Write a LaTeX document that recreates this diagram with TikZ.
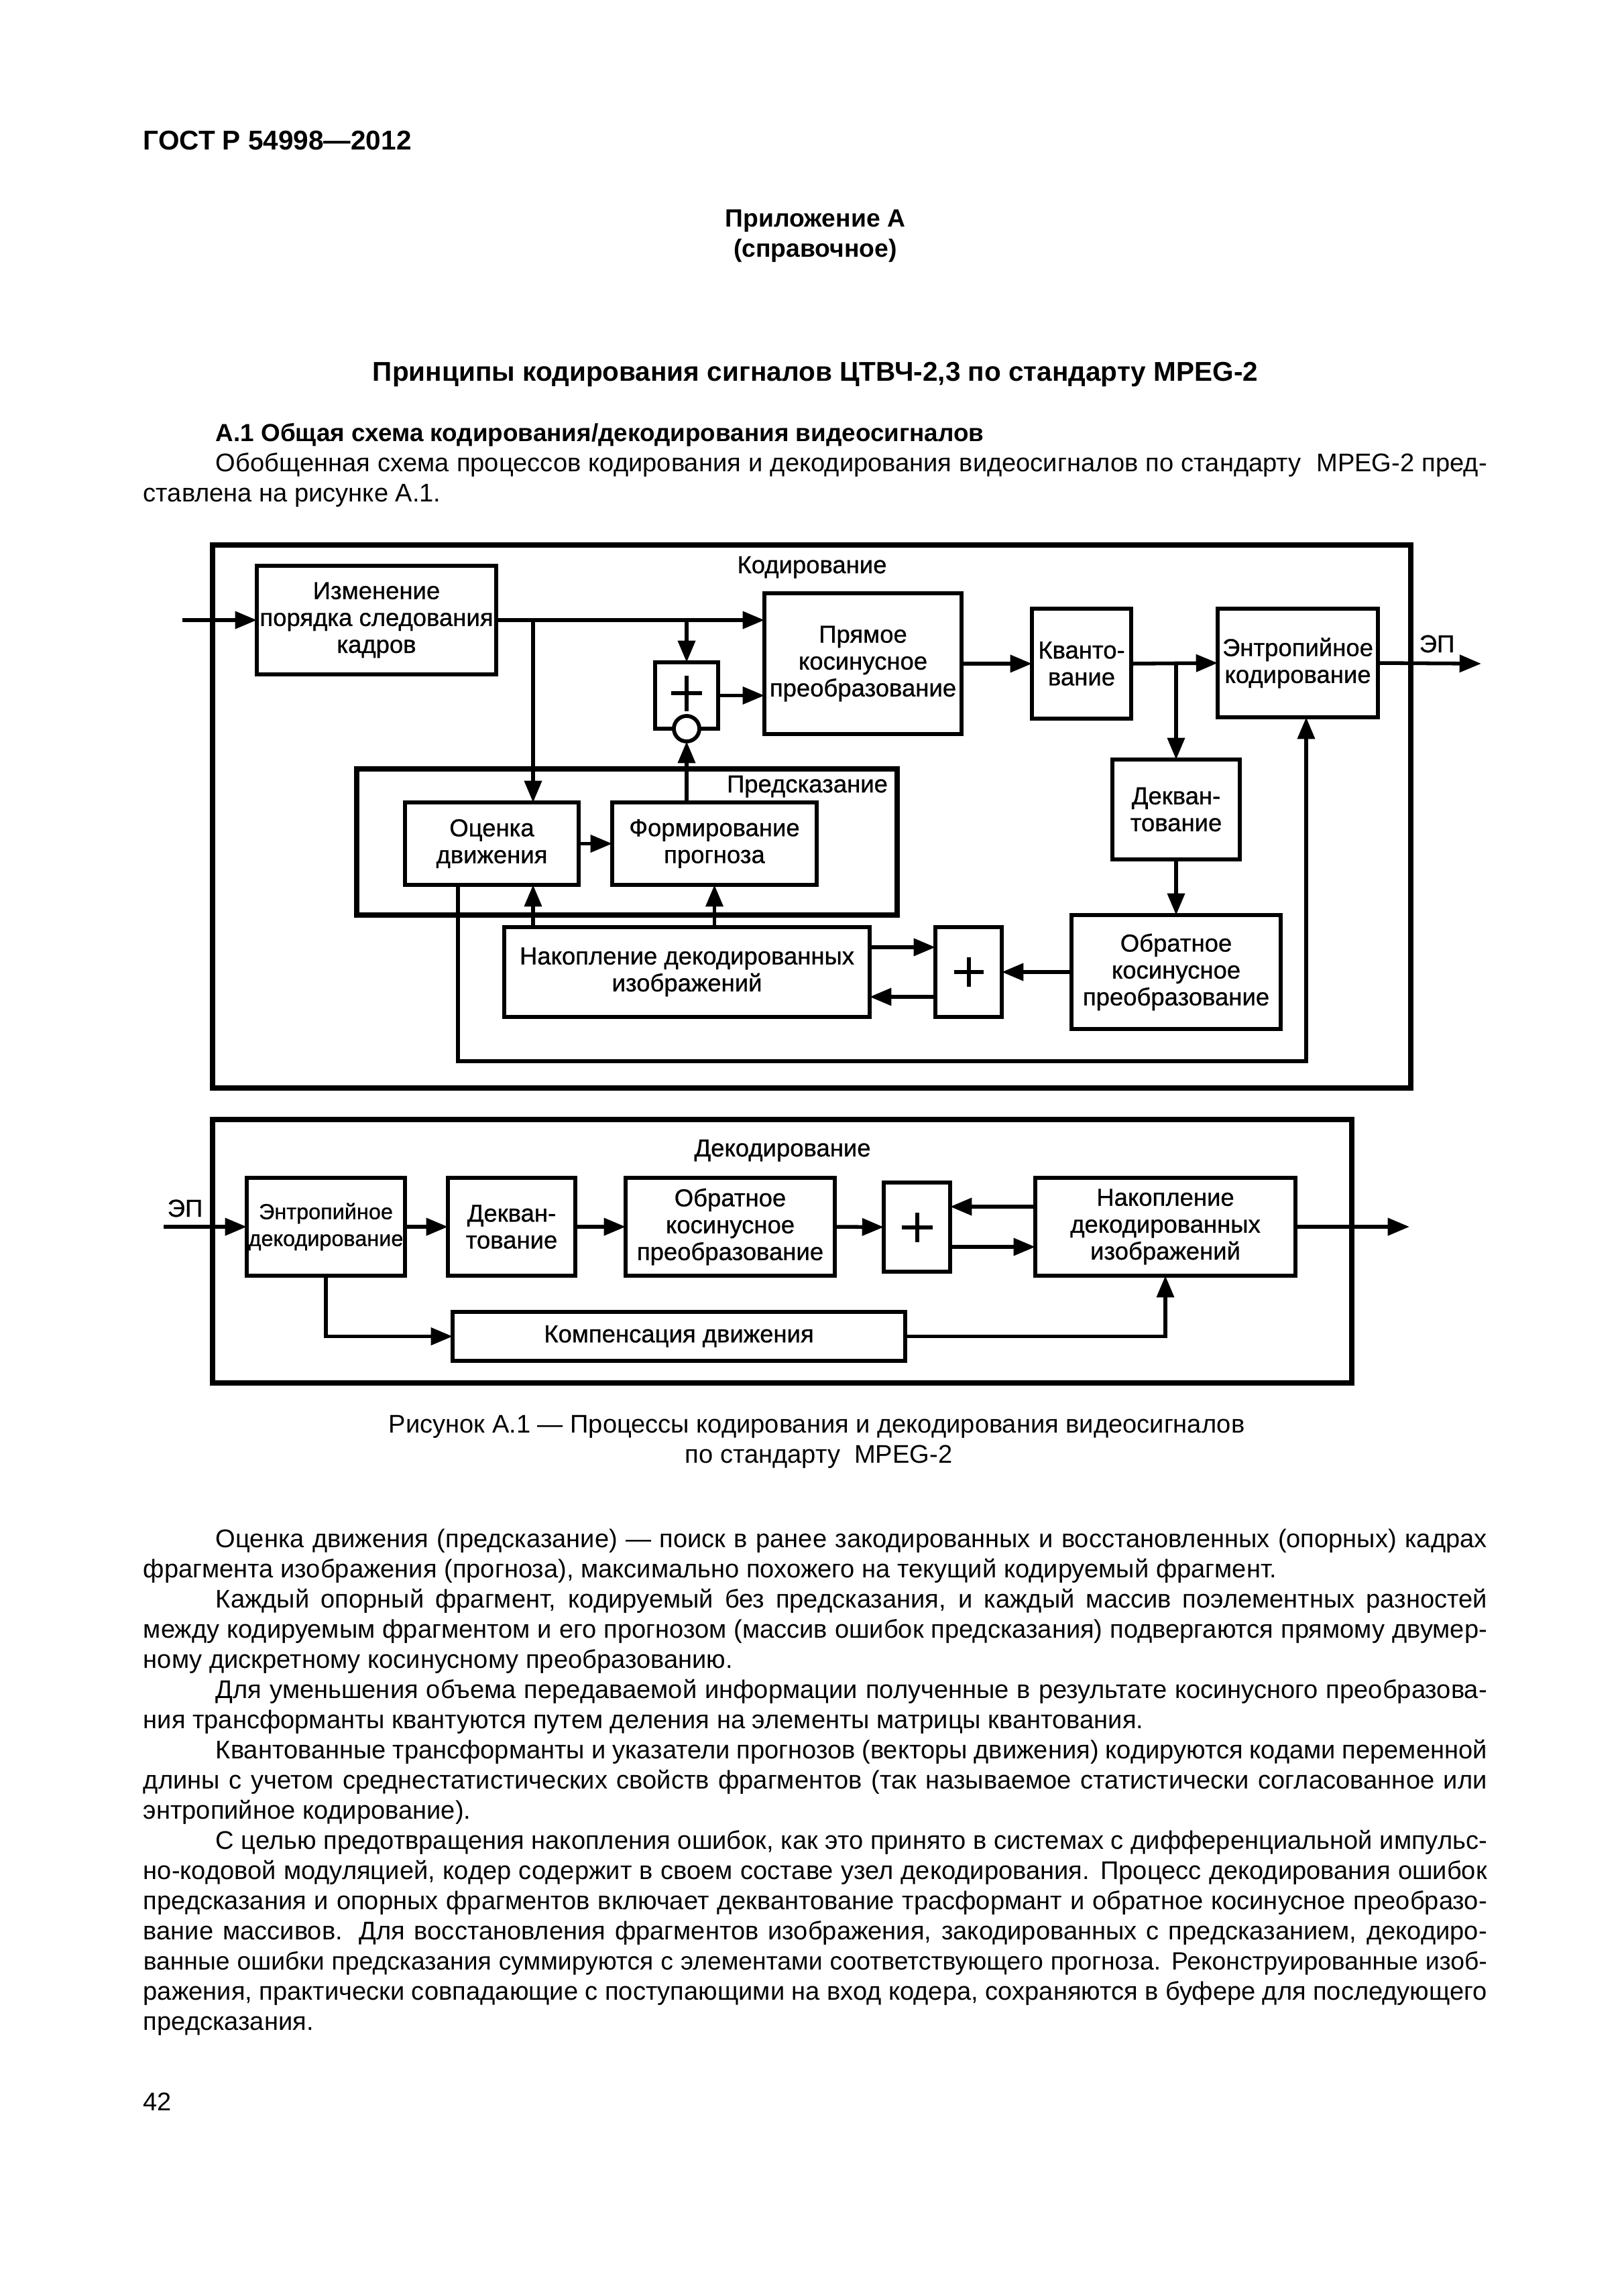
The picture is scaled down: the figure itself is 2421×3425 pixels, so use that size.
\documentclass[tikz,border=0pt]{standalone}
\usepackage{fontspec}
\setmainfont{Liberation Sans}
\newfontfamily\dfont[FakeBold=0.8]{Liberation Sans}
\usetikzlibrary{arrows.meta,fit,calc}
\newdimen\pxu \pxu=0.08674mm
\newcommand\bodyfont{\fontsize{9.4}{11}\selectfont\spaceskip 0.278em plus 1em minus 0.15em\relax}
\newcommand\bodyfontS{\fontsize{9.2}{11}\selectfont\spaceskip 0.278em plus 1em minus 0.15em\relax}
\newcommand\diafont{\dfont\fontsize{9}{9.9}\selectfont}
\tikzset{
  blk/.style={draw, line width=0.58mm, inner sep=0pt, outer sep=0pt},
  btxt/.style={inner sep=0pt, align=center, font=\diafont},
  frm/.style={draw, line width=0.64mm, inner sep=0pt, outer sep=0pt},
  con/.style={line width=0.48mm},
  arr/.style={con, -{Triangle[length=2.8mm,width=2.2mm]}},
  plusl/.style={line width=0.52mm},
  lbl/.style={inner sep=0pt, anchor=base, font=\diafont},
  txt/.style={inner sep=0pt, anchor=base west, font=\bodyfont},
  ctxt/.style={inner sep=0pt, anchor=base, font=\bodyfont},
}
\newcommand\bx[6]{\node[blk, fit={(#2,#3)(#4,#5)}] (#1) {};
  \node[btxt] (#1t) at (#1.center) {#6};}
\newcommand\Jfull[3]{\node[txt] (#1) at (213,#2) {\makebox[2004\pxu][s]{#3}};}
\newcommand\Jind[3]{\node[txt] (#1) at (321,#2) {\makebox[1896\pxu][s]{#3}};}
\newcommand\Lfull[3]{\node[txt] (#1) at (213,#2) {#3};}
\begin{document}
\begin{tikzpicture}[x=0.08674mm,y=-0.08674mm]
\useasboundingbox (0,0) rectangle (2421,3425);
\fill[white] (0,0) rectangle (2421,3425);

% ---------- header text ----------
\node[txt, font=\bfseries\fontsize{10}{12}\selectfont] (gost) at (213,223) {ГОСТ Р 54998—2012};
\node[ctxt, font=\bfseries\fontsize{9.2}{11}\selectfont] (app) at (1216,338) {Приложение А};
\node[ctxt, font=\bfseries\fontsize{9.2}{11}\selectfont] (ref) at (1216,383) {(справочное)};
\node[ctxt, font=\bfseries\fontsize{10}{12}\selectfont] (title) at (1216,568) {Принципы кодирования сигналов ЦТВЧ-2,3 по стандарту MPEG-2};
\node[txt, font=\bfseries\fontsize{9.1}{11}\selectfont] (sec) at (321,658) {А.1 Общая схема кодирования/декодирования видеосигналов};
\Jind{p0a}{703}{Обобщенная схема процессов кодирования и декодирования видеосигналов по стандарту\ \ MPEG-2 пред-}
\Lfull{p0b}{748}{ставлена на рисунке А.1.}

% ---------- encoder ----------
\node[frm, fit={(317,813)(2104,1623)}] (enc) {};
\node[lbl] (enclbl) at (1211,855) {Кодирование};
\coordinate (inE) at (272,925);
\bx{A}{383}{844}{740}{1006}{Изменение\\порядка следования\\кадров}
\bx{D}{1140}{885}{1434}{1095}{Прямое\\косинусное\\преобразование}
\coordinate (j1) at (795,925);
\coordinate (j2) at (1024,925);
\bx{P}{977}{988}{1071}{1087}{}
\node[frm, fit={(532,1147)(1338,1365)}] (pred) {};
\node[lbl] (predlbl) at (1204,1182) {Предсказание};
\bx{B}{604}{1197}{863}{1320}{Оценка\\движения}
\bx{F}{913}{1197}{1218}{1320}{Формирование\\прогноза}
\bx{Q}{1539}{908}{1687}{1072}{Кванто-\\вание}
\bx{E}{1816}{908}{2055}{1070}{Энтропийное\\кодирование}
\coordinate (outE) at (2209,990);
\node[lbl] (eplE) at (2143,973) {ЭП};
\bx{DQ}{1659}{1133}{1849}{1282}{Декван-\\тование}
\bx{I}{1598}{1365}{1910}{1535}{Обратное\\косинусное\\преобразование}
\bx{S}{1395}{1383}{1494}{1517}{}
\bx{M}{752}{1383}{1297}{1517}{Накопление декодированных\\изображений}
\coordinate (mv1) at (683,1583);
\coordinate (mv2) at (1948,1583);
\coordinate (ya) at (0,1413);
\coordinate (yb) at (0,1487);

% plus signs and circle
\draw[plusl] ($(P.center)+(0,-30)$) -- ($(P.center)+(0,23)$);
\draw[plusl] ($(P.center)+(-23,-4)$) -- ($(P.center)+(23,-4)$);
\node[circle, draw, fill=white, line width=0.5mm, minimum size=38\pxu, inner sep=0pt, outer sep=0pt] (circ) at (1024,1087) {};
\draw[plusl] ($(S.center)+(0,-22)$) -- ($(S.center)+(0,22)$);
\draw[plusl] ($(S.center)+(-22,0)$) -- ($(S.center)+(22,0)$);

% encoder connectors
\draw[arr] (inE) -- (A.west);
\draw[arr] (A.east) -- (A.east -| D.west);
\draw[arr] (j1) -- (j1 |- B.north);
\draw[arr] (j2) -- (P.north);
\draw[arr] (P.east) -- (P.east -| D.west);
\draw[arr] (B.east) -- (F.west);
\draw[arr] (F.north -| circ.south) -- (circ.south);
\draw[arr] (D.east) -- (Q.west);
\draw[arr] (Q.east) -- (E.west);
\draw[arr] (Q.east -| DQ.north) -- (DQ.north);
\draw[arr] (E.east) -- (outE);
\draw[arr] (DQ.south) -- (I.north);
\draw[arr] (I.west) -- (S.east);
\draw[arr] (M.east |- ya) -- (S.west |- ya);
\draw[arr] (S.west |- yb) -- (M.east |- yb);
\draw[arr] (j1 |- M.north) -- (j1 |- B.south);
\draw[arr] (F.south |- M.north) -- (F.south);
\draw[arr] (B.south -| mv1) -- (mv1) -- (mv2) -- (mv2 |- E.south);

% ---------- decoder ----------
\node[frm, fit={(317,1670)(2016,2063)}] (dec) {};
\node[lbl] (declbl) at (1167,1725) {Декодирование};
\coordinate (inD) at (244,1830);
\node[lbl] (eplD) at (276,1815) {ЭП};
\bx{ED}{368}{1757}{604}{1903}{\fontsize{8}{9.9}\selectfont Энтропийное\\\fontsize{8}{9.9}\selectfont декодирование}
\bx{DQ2}{668}{1757}{858}{1903}{Декван-\\тование}
\bx{I2}{933}{1757}{1245}{1903}{Обратное\\косинусное\\преобразование}
\bx{S2}{1318}{1764}{1417}{1897}{}
\bx{M2}{1544}{1757}{1932}{1903}{Накопление\\декодированных\\изображений}
\bx{K}{675}{1957}{1350}{2030}{Компенсация движения}
\coordinate (outD) at (2102,1830);
\coordinate (yc) at (0,1800);
\coordinate (yd) at (0,1860);
\draw[plusl] ($(S2.center)+(0,-22)$) -- ($(S2.center)+(0,22)$);
\draw[plusl] ($(S2.center)+(-23,0)$) -- ($(S2.center)+(23,0)$);

\draw[arr] (inD) -- (ED.west);
\draw[arr] (ED.east) -- (DQ2.west);
\draw[arr] (DQ2.east) -- (I2.west);
\draw[arr] (I2.east) -- (S2.west);
\draw[arr] (M2.west |- yc) -- (S2.east |- yc);
\draw[arr] (S2.east |- yd) -- (M2.west |- yd);
\draw[arr] (M2.east) -- (outD);
\draw[arr] (ED.south) -- (ED.south |- K.west) -- (K.west);
\draw[arr] (K.east) -- (K.east -| M2.south) -- (M2.south);

% ---------- caption ----------
\node[ctxt] (cap1) at (1218,2137) {Рисунок А.1 — Процессы кодирования и декодирования видеосигналов};
\node[ctxt] (cap2) at (1221,2182) {по стандарту\ \ MPEG-2};

% ---------- body ----------
\Jind{b00}{2308}{Оценка движения (предсказание) — поиск в ранее закодированных и восстановленных (опорных) кадрах}
\Lfull{b01}{2353}{фрагмента изображения (прогноза), максимально похожего на текущий кодируемый фрагмент.}
\Jind{b02}{2398}{Каждый опорный фрагмент, кодируемый без предсказания, и каждый массив поэлементных разностей}
\Jfull{b03}{2443}{между кодируемым фрагментом и его прогнозом (массив ошибок предсказания) подвергаются прямому двумер-}
\Lfull{b04}{2488}{ному дискретному косинусному преобразованию.}
\Jind{b05}{2533}{Для уменьшения объема передаваемой информации полученные в результате косинусного преобразова-}
\Lfull{b06}{2578}{ния трансформанты квантуются путем деления на элементы матрицы квантования.}
\Jind{b07}{2623}{Квантованные трансформанты и указатели прогнозов (векторы движения) кодируются кодами переменной}
\Jfull{b08}{2668}{длины с учетом среднестатистических свойств фрагментов (так называемое статистически согласованное или}
\Lfull{b09}{2713}{энтропийное кодирование).}
\Jind{b10}{2758}{С целью предотвращения накопления ошибок, как это принято в системах с дифференциальной импульс-}
\Jfull{b11}{2803}{но-кодовой модуляцией, кодер содержит в своем составе узел декодирования. Процесс декодирования ошибок}
\Jfull{b12}{2848}{предсказания и опорных фрагментов включает деквантование трасформант и обратное косинусное преобразо-}
\Jfull{b13}{2893}{вание массивов. Для восстановления фрагментов изображения, закодированных с предсказанием, декодиро-}
\node[txt, font=\bodyfontS] (b14) at (213,2938) {\makebox[2004\pxu][s]{ванные ошибки предсказания суммируются с элементами соответствующего прогноза. Реконструированные изоб-}};
\Jfull{b15}{2983}{ражения, практически совпадающие с поступающими на вход кодера, сохраняются в буфере для последующего}
\Lfull{b16}{3028}{предсказания.}
\Lfull{pg}{3148}{42}
\end{tikzpicture}
\end{document}
